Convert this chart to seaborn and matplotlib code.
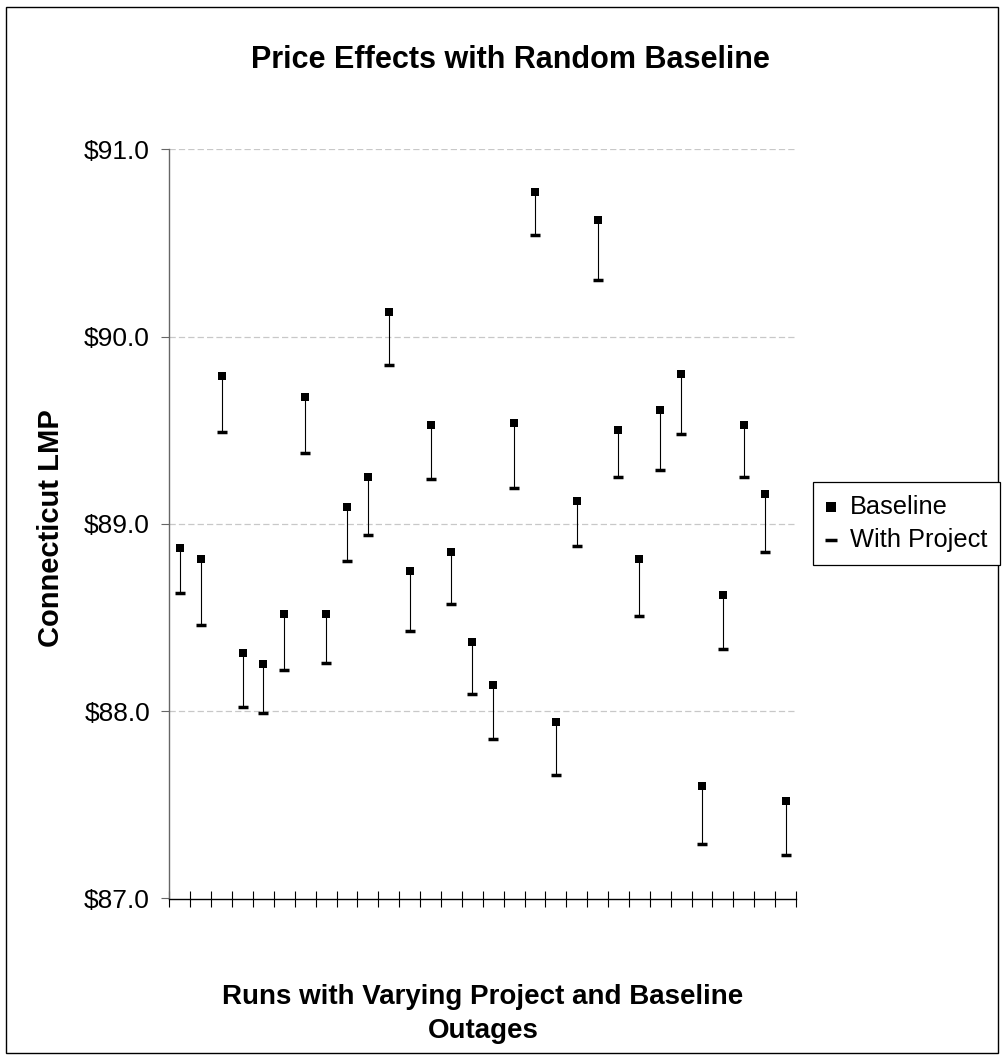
import numpy as np
import matplotlib
matplotlib.use("Agg")
import matplotlib.pyplot as plt
import seaborn as sns
from matplotlib.patches import Rectangle

# Connecticut LMP per run
runs = np.arange(1, 31)
baseline = [88.87, 88.81, 89.79, 88.31, 88.25, 88.52, 89.68, 88.52, 89.09, 89.25,
            90.13, 88.75, 89.53, 88.85, 88.37, 88.14, 89.54, 90.77, 87.94, 89.12,
            90.62, 89.50, 88.81, 89.61, 89.80, 87.60, 88.62, 89.53, 89.16, 87.52]
with_project = [88.63, 88.46, 89.49, 88.02, 87.99, 88.22, 89.38, 88.26, 88.80, 88.94,
                89.85, 88.43, 89.24, 88.57, 88.09, 87.85, 89.19, 90.54, 87.66, 88.88,
                90.30, 89.25, 88.51, 89.29, 89.48, 87.29, 88.33, 89.25, 88.85, 87.23]
y_ticks = [87.0, 88.0, 89.0, 90.0, 91.0]
y_tick_labels = [f"${v:.1f}" for v in y_ticks]

sns.set_style("white")
plt.rcParams['font.family'] = ['Liberation Sans', 'DejaVu Sans']
plt.rcParams['text.color'] = 'black'
plt.rcParams['xtick.color'] = 'black'
plt.rcParams['ytick.color'] = 'black'

fig = plt.figure(figsize=(10.04, 10.59), dpi=100)
ax = fig.add_axes([169.5/1004, 1 - 898.5/1059, (796 - 169.5)/1004, (898.5 - 149.3)/1059])

xpos = runs - 0.5

# high-low lines between the two series
ax.vlines(xpos, with_project, baseline, color='black', linewidth=0.8, zorder=2)
sns.scatterplot(x=xpos, y=baseline, marker='s', s=32, color='black', linewidth=0,
                label='Baseline', ax=ax, zorder=3)
sns.scatterplot(x=xpos, y=with_project, marker='_', s=49, color='black', linewidth=2.5,
                label='With Project', ax=ax, zorder=3)

ax.set_xlim(0, 30)
ax.set_ylim(87, 91)
ax.set_xticks(np.arange(0, 31))
ax.set_xticklabels([])
ax.set_yticks(y_ticks)
ax.set_yticklabels(y_tick_labels, fontsize=19)
ax.tick_params(axis='x', bottom=True, direction='inout', length=11, width=0.8,
               color='black')
ax.tick_params(axis='y', left=True, direction='out', length=6, width=0.8,
               color='#666666', labelcolor='black', pad=8)

for v in y_ticks[1:]:
    ax.axhline(v, color='#c8c8c8', linewidth=0.9, linestyle=(0, (5, 2.5)), zorder=1)

for side in ['top', 'right']:
    ax.spines[side].set_visible(False)
ax.spines['left'].set_color('#666666')
ax.spines['left'].set_linewidth(1.0)
ax.spines['bottom'].set_color('black')
ax.spines['bottom'].set_linewidth(1.0)
ax.set_xlabel("")
ax.set_ylabel("")

handles, labels = ax.get_legend_handles_labels()
ax.get_legend().remove()
leg = fig.legend(handles, labels, loc='center left',
                 bbox_to_anchor=(813/1004, 1 - 523.5/1059), fontsize=18.3,
                 frameon=True, fancybox=False, edgecolor='black', framealpha=1,
                 handlelength=0.45, handletextpad=0.5, borderpad=0.5,
                 labelspacing=0.35, borderaxespad=0, markerscale=1.15)
leg.get_frame().set_linewidth(0.9)

fig.text(510/1004, 1 - 60/1059, "Price Effects with Random Baseline",
         ha='center', va='center', fontsize=22, fontweight='bold')
fig.text(51/1004, 1 - 528/1059, "Connecticut LMP", rotation=90,
         ha='center', va='center', fontsize=21, fontweight='bold')
fig.text(483/1004, 1 - 1014/1059, "Runs with Varying Project and Baseline\nOutages",
         ha='center', va='center', fontsize=20, fontweight='bold', linespacing=1.35)

# outer chart border
fig.patches.append(Rectangle((6/1004, 1 - 1053/1059), 992/1004, 1046/1059,
                             transform=fig.transFigure, fill=False,
                             edgecolor='black', linewidth=1.0))

fig.savefig("out.png", dpi=100)
